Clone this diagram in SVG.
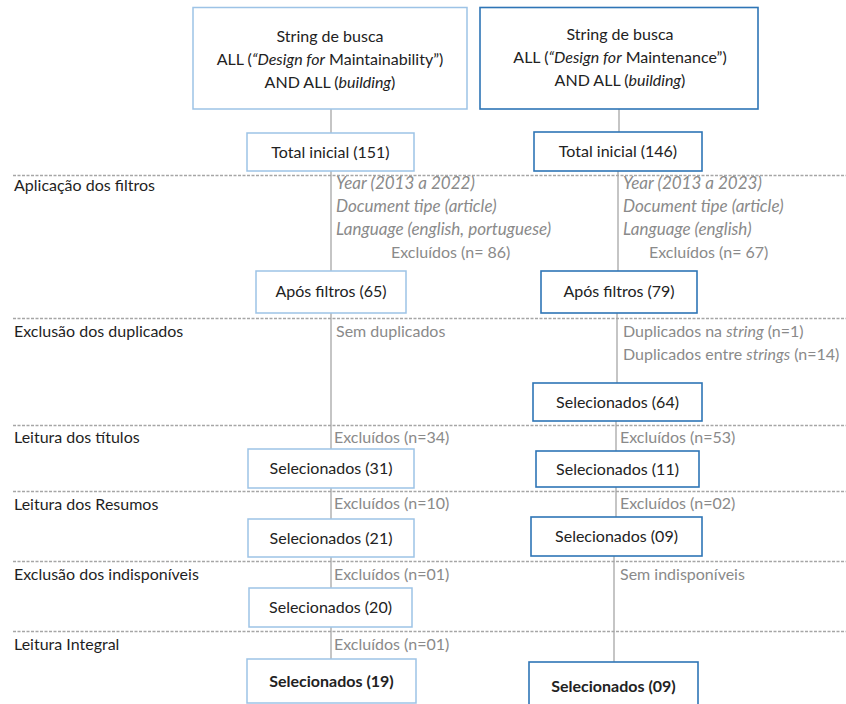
<svg xmlns="http://www.w3.org/2000/svg" width="846" height="704" viewBox="0 0 846 704">
  <style>
    text { font-family: Lato, "Open Sans", "Liberation Sans", sans-serif; font-size: 16px; }
    .lbl { fill: #1f1f1f; }
    .box-t { fill: #222222; text-anchor: middle; }
    .note { fill: #8a8a8a; }
    .it { font-style: italic; }
    .filt { font-style: italic; font-size: 17px; }
    .b { font-weight: bold; }
    .light { fill: #ffffff; stroke: #9dc3e6; stroke-width: 1.5; }
    .dark { fill: #ffffff; stroke: #2e75b6; stroke-width: 1.6; }
    .stage { stroke: #a6a6a6; stroke-width: 1.3; stroke-dasharray: 3 1.5; fill: none; }
    .flow { stroke: #a6a6a6; stroke-width: 1.3; fill: none; }
  </style>

  <!-- stage separators -->
  <g id="stages">
    <line class="stage" x1="13" y1="175.5" x2="846" y2="175.5"/>
    <line class="stage" x1="13" y1="318.5" x2="846" y2="318.5"/>
    <line class="stage" x1="13" y1="425.5" x2="846" y2="425.5"/>
    <line class="stage" x1="13" y1="491.5" x2="846" y2="491.5"/>
    <line class="stage" x1="13" y1="561.5" x2="846" y2="561.5"/>
    <line class="stage" x1="13" y1="631.5" x2="846" y2="631.5"/>
  </g>

  <!-- stage labels -->
  <g id="stage-labels">
    <text class="lbl" x="14" y="191">Aplicação dos filtros</text>
    <text class="lbl" x="14" y="337">Exclusão dos duplicados</text>
    <text class="lbl" x="14" y="443">Leitura dos títulos</text>
    <text class="lbl" x="14" y="510">Leitura dos Resumos</text>
    <text class="lbl" x="14" y="580">Exclusão dos indisponíveis</text>
    <text class="lbl" x="14" y="650">Leitura Integral</text>
  </g>

  <!-- flow lines -->
  <g id="connectors">
    <line class="flow" x1="331" y1="109" x2="331" y2="659"/>
    <line class="flow" x1="619" y1="109" x2="619" y2="132"/>
    <line class="flow" x1="618" y1="171" x2="618" y2="271"/>
    <line class="flow" x1="617" y1="313" x2="617" y2="383"/>
    <line class="flow" x1="616" y1="421" x2="616" y2="517"/>
    <line class="flow" x1="614" y1="556" x2="614" y2="662"/>
  </g>

  <!-- exclusion notes -->
  <g id="notes">
    <text class="note filt" x="336" y="189">Year (2013 a 2022)</text>
    <text class="note filt" x="336" y="212">Document tipe (article)</text>
    <text class="note filt" x="336" y="235">Language (english, portuguese)</text>
    <text class="note" x="391" y="258">Excluídos (n= 86)</text>
    <text class="note filt" x="623" y="189">Year (2013 a 2023)</text>
    <text class="note filt" x="623" y="212">Document tipe (article)</text>
    <text class="note filt" x="623" y="235">Language (english)</text>
    <text class="note" x="649" y="258">Excluídos (n= 67)</text>
    <text class="note" x="336" y="337">Sem duplicados</text>
    <text class="note" x="623" y="337">Duplicados na <tspan class="it">string</tspan> (n=1)</text>
    <text class="note" x="623" y="360">Duplicados entre <tspan class="it">strings</tspan> (n=14)</text>
    <text class="note" x="334" y="443">Excluídos (n=34)</text>
    <text class="note" x="620" y="443">Excluídos (n=53)</text>
    <text class="note" x="334" y="509">Excluídos (n=10)</text>
    <text class="note" x="620" y="509">Excluídos (n=02)</text>
    <text class="note" x="334" y="580">Excluídos (n=01)</text>
    <text class="note" x="620" y="580">Sem indisponíveis</text>
    <text class="note" x="334" y="650">Excluídos (n=01)</text>
  </g>

  <!-- search strings -->
  <g id="string-maintainability">
    <rect class="light" x="193" y="7.5" width="274" height="101.5"/>
    <text class="box-t" x="330" y="42">String de busca</text>
    <text class="box-t" x="330" y="65">ALL (<tspan class="it">“Design for</tspan> Maintainability”)</text>
    <text class="box-t" x="330" y="88">AND ALL (<tspan class="it">building</tspan>)</text>
  </g>
  <g id="string-maintenance">
    <rect class="dark" x="480" y="7.5" width="278" height="101.5" stroke-width="2"/>
    <text class="box-t" x="620" y="40">String de busca</text>
    <text class="box-t" x="620" y="63">ALL (<tspan class="it">“Design for</tspan> Maintenance”)</text>
    <text class="box-t" x="620" y="86">AND ALL (<tspan class="it">building</tspan>)</text>
  </g>

  <!-- left column -->
  <g id="total-151">
    <rect class="light" x="247" y="133" width="167" height="38"/>
    <text class="box-t" x="330.5" y="158">Total inicial (151)</text>
  </g>
  <g id="apos-65">
    <rect class="light" x="256" y="271" width="150" height="42"/>
    <text class="box-t" x="331" y="297">Após filtros (65)</text>
  </g>
  <g id="sel-31">
    <rect class="light" x="248" y="449" width="166" height="39"/>
    <text class="box-t" x="331" y="474">Selecionados (31)</text>
  </g>
  <g id="sel-21">
    <rect class="light" x="248" y="519" width="166" height="38"/>
    <text class="box-t" x="331" y="544">Selecionados (21)</text>
  </g>
  <g id="sel-20">
    <rect class="light" x="249" y="588" width="163" height="39"/>
    <text class="box-t" x="330.5" y="613">Selecionados (20)</text>
  </g>
  <g id="sel-19">
    <rect class="light" x="247" y="659" width="169" height="44"/>
    <text class="box-t b" x="331.5" y="687">Selecionados (19)</text>
  </g>

  <!-- right column -->
  <g id="total-146">
    <rect class="dark" x="534" y="132" width="168" height="39"/>
    <text class="box-t" x="618" y="157">Total inicial (146)</text>
  </g>
  <g id="apos-79">
    <rect class="dark" x="541" y="271" width="156" height="42"/>
    <text class="box-t" x="619" y="297">Após filtros (79)</text>
  </g>
  <g id="sel-64">
    <rect class="dark" x="533" y="383" width="169" height="38"/>
    <text class="box-t" x="617.5" y="408">Selecionados (64)</text>
  </g>
  <g id="sel-11">
    <rect class="dark" x="536" y="451" width="163" height="36"/>
    <text class="box-t" x="617.5" y="475">Selecionados (11)</text>
  </g>
  <g id="sel-09">
    <rect class="dark" x="531" y="517" width="171" height="39"/>
    <text class="box-t" x="616.5" y="542">Selecionados (09)</text>
  </g>
  <g id="sel-09-final">
    <rect class="dark" x="529" y="662" width="169" height="50"/>
    <text class="box-t b" x="613.5" y="692">Selecionados (09)</text>
  </g>
</svg>
